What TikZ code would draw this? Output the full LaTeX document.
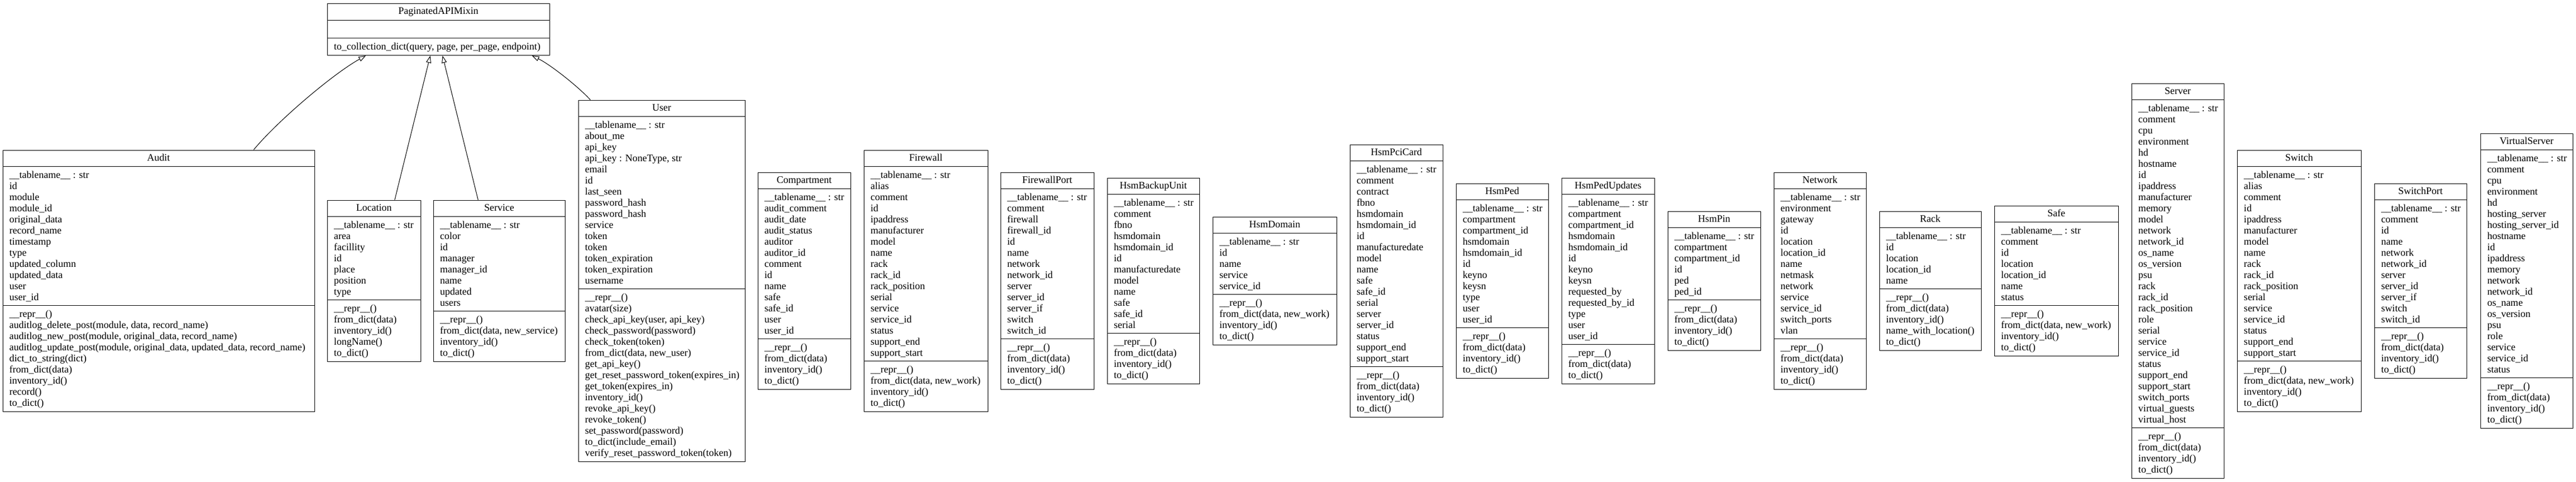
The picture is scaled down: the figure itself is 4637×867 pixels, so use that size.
\documentclass[tikz,border=0pt]{standalone}
\usepackage{fontspec}
\setmainfont{Liberation Serif}
\usetikzlibrary{arrows.meta}
\tikzset{
  classbox/.style={draw=black, line width=1.1pt, rectangle, inner sep=0pt, fill=none},
  sepline/.style={draw=black, line width=1.1pt},
  txt/.style={anchor=base west, inner sep=0pt, font=\fontsize{18}{20}\selectfont},
  inh/.style={draw=black, line width=1pt, -{Triangle[open, length=13pt, width=9pt, line width=1pt]}}
}
\newcommand{\umlclass}[8]{%
  \pgfmathsetmacro{\ucH}{50+20*(#4+#5)}%
  \pgfmathsetmacro{\ucT}{504.5-\ucH/2}%
  \pgfmathsetmacro{\ucA}{\ucT+30}%
  \pgfmathsetmacro{\ucB}{\ucA+20*#4+10}%
  \pgfmathsetmacro{\ucW}{#3-#2}%
  \node[classbox, minimum width=\ucW pt, minimum height=\ucH pt, anchor=north west] (#1) at (#2,\ucT) {};%
  \node[txt, anchor=base] at ({(#2+#3)/2},\ucT+20) {#6};%
  \draw[sepline] (#2,\ucA) -- (#3,\ucA);%
  \draw[sepline] (#2,\ucB) -- (#3,\ucB);%
  \foreach \ucline [count=\ucn from 0] in {#7} {\node[txt] at (#2+12,\ucA+20.5+20*\ucn) {\ucline};}%
  \foreach \ucline [count=\ucn from 0] in {#8} {\node[txt] at (#2+12,\ucB+20.5+20*\ucn) {\ucline};}%
}
\begin{document}
\begin{tikzpicture}[x=1pt,y=-1pt]
\useasboundingbox (0,0) rectangle (4637,867);
\fill[white] (0,0) rectangle (4637,867);

% PaginatedAPIMixin
\node[classbox, minimum width=400pt, minimum height=93pt, anchor=north west] (PAPIM) at (589,6) {};
\node[txt, anchor=base] at (789,26) {PaginatedAPIMixin};
\draw[sepline] (589,36.5) -- (989,36.5);
\draw[sepline] (589,68.5) -- (989,68.5);
\node[txt] at (601,89) {to\_collection\_dict(query, page, per\_page, endpoint)};

\umlclass{Audit}{4.6}{566}{12}{9}{Audit}
 {\_\_tablename\_\_ : str, id, module, module\_id, original\_data, record\_name, timestamp, type, updated\_column, updated\_data, user, user\_id}
 {\_\_repr\_\_(), {auditlog\_delete\_post(module, data, record\_name)}, {auditlog\_new\_post(module, original\_data, record\_name)}, {auditlog\_update\_post(module, original\_data, updated\_data, record\_name)}, dict\_to\_string(dict), from\_dict(data), inventory\_id(), record(), to\_dict()}

\umlclass{Location}{589}{757}{7}{5}{Location}
 {\_\_tablename\_\_ : str, area, facillity, id, place, position, type}
 {\_\_repr\_\_(), from\_dict(data), inventory\_id(), longName(), to\_dict()}

\umlclass{Service}{780}{1017}{8}{4}{Service}
 {\_\_tablename\_\_ : str, color, id, manager, manager\_id, name, updated, users}
 {\_\_repr\_\_(), {from\_dict(data, new\_service)}, inventory\_id(), to\_dict()}

\umlclass{User}{1041}{1341}{15}{15}{User}
 {\_\_tablename\_\_ : str, about\_me, api\_key, {api\_key : NoneType, str}, email, id, last\_seen, password\_hash, password\_hash, service, token, token, token\_expiration, token\_expiration, username}
 {\_\_repr\_\_(), avatar(size), {check\_api\_key(user, api\_key)}, check\_password(password), check\_token(token), {from\_dict(data, new\_user)}, get\_api\_key(), get\_reset\_password\_token(expires\_in), get\_token(expires\_in), inventory\_id(), revoke\_api\_key(), revoke\_token(), set\_password(password), to\_dict(include\_email), verify\_reset\_password\_token(token)}

\umlclass{Compartment}{1364}{1531}{13}{4}{Compartment}
 {\_\_tablename\_\_ : str, audit\_comment, audit\_date, audit\_status, auditor, auditor\_id, comment, id, name, safe, safe\_id, user, user\_id}
 {\_\_repr\_\_(), from\_dict(data), inventory\_id(), to\_dict()}

\umlclass{Firewall}{1555}{1778}{17}{4}{Firewall}
 {\_\_tablename\_\_ : str, alias, comment, id, ipaddress, manufacturer, model, name, rack, rack\_id, rack\_position, serial, service, service\_id, status, support\_end, support\_start}
 {\_\_repr\_\_(), {from\_dict(data, new\_work)}, inventory\_id(), to\_dict()}

\umlclass{FirewallPort}{1801}{1969}{13}{4}{FirewallPort}
 {\_\_tablename\_\_ : str, comment, firewall, firewall\_id, id, name, network, network\_id, server, server\_id, server\_if, switch, switch\_id}
 {\_\_repr\_\_(), from\_dict(data), inventory\_id(), to\_dict()}

\umlclass{HsmBackupUnit}{1993}{2159}{12}{4}{HsmBackupUnit}
 {\_\_tablename\_\_ : str, comment, fbno, hsmdomain, hsmdomain\_id, id, manufacturedate, model, name, safe, safe\_id, serial}
 {\_\_repr\_\_(), from\_dict(data), inventory\_id(), to\_dict()}

\umlclass{HsmDomain}{2183}{2406}{5}{4}{HsmDomain}
 {\_\_tablename\_\_ : str, id, name, service, service\_id}
 {\_\_repr\_\_(), {from\_dict(data, new\_work)}, inventory\_id(), to\_dict()}

\umlclass{HsmPciCard}{2430}{2597}{18}{4}{HsmPciCard}
 {\_\_tablename\_\_ : str, comment, contract, fbno, hsmdomain, hsmdomain\_id, id, manufacturedate, model, name, safe, safe\_id, serial, server, server\_id, status, support\_end, support\_start}
 {\_\_repr\_\_(), from\_dict(data), inventory\_id(), to\_dict()}

\umlclass{HsmPed}{2621}{2787}{11}{4}{HsmPed}
 {\_\_tablename\_\_ : str, compartment, compartment\_id, hsmdomain, hsmdomain\_id, id, keyno, keysn, type, user, user\_id}
 {\_\_repr\_\_(), from\_dict(data), inventory\_id(), to\_dict()}

\umlclass{HsmPedUpdates}{2811}{2978}{13}{3}{HsmPedUpdates}
 {\_\_tablename\_\_ : str, compartment, compartment\_id, hsmdomain, hsmdomain\_id, id, keyno, keysn, requested\_by, requested\_by\_id, type, user, user\_id}
 {\_\_repr\_\_(), from\_dict(data), to\_dict()}

\umlclass{HsmPin}{3002}{3169}{6}{4}{HsmPin}
 {\_\_tablename\_\_ : str, compartment, compartment\_id, id, ped, ped\_id}
 {\_\_repr\_\_(), from\_dict(data), inventory\_id(), to\_dict()}

\umlclass{Network}{3193}{3359}{13}{4}{Network}
 {\_\_tablename\_\_ : str, environment, gateway, id, location, location\_id, name, netmask, network, service, service\_id, switch\_ports, vlan}
 {\_\_repr\_\_(), from\_dict(data), inventory\_id(), to\_dict()}

\umlclass{Rack}{3383}{3566}{5}{5}{Rack}
 {\_\_tablename\_\_ : str, id, location, location\_id, name}
 {\_\_repr\_\_(), from\_dict(data), inventory\_id(), name\_with\_location(), to\_dict()}

\umlclass{Safe}{3590}{3813}{7}{4}{Safe}
 {\_\_tablename\_\_ : str, comment, id, location, location\_id, name, status}
 {\_\_repr\_\_(), {from\_dict(data, new\_work)}, inventory\_id(), to\_dict()}

\umlclass{Server}{3837}{4003}{29}{4}{Server}
 {\_\_tablename\_\_ : str, comment, cpu, environment, hd, hostname, id, ipaddress, manufacturer, memory, model, network, network\_id, os\_name, os\_version, psu, rack, rack\_id, rack\_position, role, serial, service, service\_id, status, support\_end, support\_start, switch\_ports, virtual\_guests, virtual\_host}
 {\_\_repr\_\_(), from\_dict(data), inventory\_id(), to\_dict()}

\umlclass{Switch}{4027}{4250}{17}{4}{Switch}
 {\_\_tablename\_\_ : str, alias, comment, id, ipaddress, manufacturer, model, name, rack, rack\_id, rack\_position, serial, service, service\_id, status, support\_end, support\_start}
 {\_\_repr\_\_(), {from\_dict(data, new\_work)}, inventory\_id(), to\_dict()}

\umlclass{SwitchPort}{4274}{4440}{11}{4}{SwitchPort}
 {\_\_tablename\_\_ : str, comment, id, name, network, network\_id, server, server\_id, server\_if, switch, switch\_id}
 {\_\_repr\_\_(), from\_dict(data), inventory\_id(), to\_dict()}

\umlclass{VirtualServer}{4465}{4631}{20}{4}{VirtualServer}
 {\_\_tablename\_\_ : str, comment, cpu, environment, hd, hosting\_server, hosting\_server\_id, hostname, id, ipaddress, memory, network, network\_id, os\_name, os\_version, psu, role, service, service\_id, status}
 {\_\_repr\_\_(), from\_dict(data), inventory\_id(), to\_dict()}

% inheritance connectors
\draw[inh] ([xshift=170.7pt]Audit.north) .. controls +(44,-53) and +(-58,32) .. ([xshift=-131pt]PAPIM.south);
\draw[inh] ([xshift=37pt]Location.north) -- ([xshift=-15pt]PAPIM.south);
\draw[inh] ([xshift=-38.5pt]Service.north) -- ([xshift=7pt]PAPIM.south);
\draw[inh] ([xshift=-129pt]User.north) .. controls +(-22,-24) and +(33,16) .. ([xshift=168pt]PAPIM.south);
\end{tikzpicture}
\end{document}
